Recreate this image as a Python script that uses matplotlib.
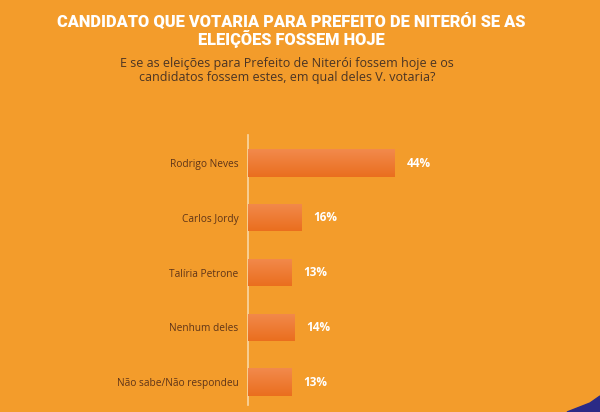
import numpy as np
import matplotlib.pyplot as plt
from matplotlib.patches import Polygon
from matplotlib.colors import LinearSegmentedColormap

# dados
categorias = ["Rodrigo Neves", "Carlos Jordy", "Talíria Petrone",
              "Nenhum deles", "Não sabe/Não respondeu"]
valores = [44, 16, 13, 14, 13]

titulo = "CANDIDATO QUE VOTARIA PARA PREFEITO DE NITERÓI SE AS\nELEIÇÕES FOSSEM HOJE"
subtitulo = ("E se as eleições para Prefeito de Niterói fossem hoje e os\n"
             "candidatos fossem estes, em qual deles V. votaria?")

fundo = "#F39C2B"

fig = plt.figure(figsize=(6, 4.12), dpi=100)
fig.patch.set_facecolor(fundo)

ax = fig.add_axes([0.4133, 0.017, 0.57, 0.655])
ax.set_facecolor(fundo)

y = np.arange(len(categorias))
barras = ax.barh(y, valores, height=0.5, color="#F07A30", zorder=2)

# gradiente vertical em cada barra (mais claro em cima)
grad = np.linspace(0, 1, 64).reshape(-1, 1)
cmap = LinearSegmentedColormap.from_list("g", ["#F28A4C", "#EA6E1E"])
for b in barras:
    x0, y0 = b.get_x(), b.get_y()
    w, h = b.get_width(), b.get_height()
    im = ax.imshow(grad, cmap=cmap, aspect="auto", zorder=3,
                   extent=(x0, x0 + w, y0 + h, y0), origin="upper")
    im.set_clip_path(b)

for yi, v in zip(y, valores):
    ax.text(v + 3.5, yi, f"{v}%", va="center", ha="left", color="white",
            fontsize=8.5, fontweight="bold", family="Open Sans", zorder=4)

ax.set_xlim(0, 102.4)
ax.set_ylim(4.42, -0.51)
ax.set_yticks(y)
ax.set_yticklabels(categorias, fontsize=7.3, color="#5E3418", family="Open Sans")
ax.tick_params(axis="y", length=0, pad=7)
ax.set_xticks([])
for s in ["top", "right", "bottom"]:
    ax.spines[s].set_visible(False)
ax.spines["left"].set_color("#F9D7A6")
ax.spines["left"].set_linewidth(1.2)

fig.text(0.485, 0.927, titulo, ha="center", va="center", color="white",
         fontsize=11.8, fontweight="black", family="Roboto", linespacing=1.0)
fig.text(0.478, 0.83, subtitulo, ha="center", va="center", color="#4A3424",
         fontsize=9, family="Open Sans", linespacing=1.1)

# detalhe azul no canto
canto = Polygon([[567 / 600, 0], [1, 0], [1, 16 / 412], [590 / 600, 9 / 412]],
                closed=True, transform=fig.transFigure, color="#2B2A86")
fig.patches.append(canto)

fig.savefig("out.png", dpi=100, facecolor=fundo)
